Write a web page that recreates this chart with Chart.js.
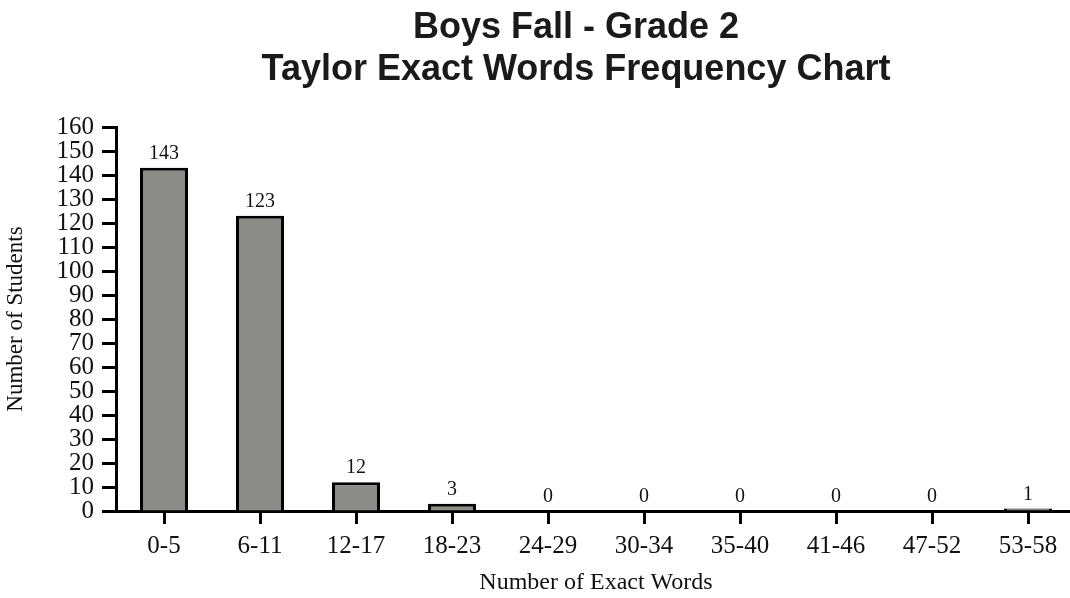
<!DOCTYPE html>
<html>
<head>
<meta charset="utf-8">
<title>Boys Fall - Grade 2</title>
<script src="https://cdn.jsdelivr.net/npm/chart.js@4.4.1/dist/chart.umd.min.js"></script>
<style>
  body { margin: 0; background: #fff; overflow: hidden; }
  #wrap { width: 1080px; height: 598px; }
</style>
</head>
<body>
<div id="wrap"><canvas id="freqChart" width="1080" height="598"></canvas></div>
<script>
// Datos del gráfico
const wordRanges = ['0-5', '6-11', '12-17', '18-23', '24-29', '30-34', '35-40', '41-46', '47-52', '53-58'];
const studentCounts = [143, 123, 12, 3, 0, 0, 0, 0, 0, 1];
const chartTitle = ['Boys Fall - Grade 2', 'Taylor Exact Words Frequency Chart'];
const yAxisMax = 160;
const yAxisStep = 10;

const serif = '"Liberation Serif", "Times New Roman", serif';

// título en dos líneas, centrado como en el original
const titlePlugin = {
    id: 'twoLineTitle',
    afterDraw(chart) {
        const ctx = chart.ctx;
        ctx.save();
        ctx.fillStyle = '#1a1a1a';
        ctx.font = 'bold 36px "Liberation Sans", Arial, sans-serif';
        ctx.textAlign = 'center';
        ctx.textBaseline = 'alphabetic';
        ctx.fillText(chartTitle[0], 576, 38);
        ctx.fillText(chartTitle[1], 576, 80);
        ctx.restore();
    }
};

// etiquetas de valor encima de cada barra
const valueLabels = {
    id: 'valueLabels',
    afterDatasetsDraw(chart) {
        const ctx = chart.ctx;
        const meta = chart.getDatasetMeta(0);
        ctx.save();
        ctx.fillStyle = '#111';
        ctx.font = '20px ' + serif;
        ctx.textAlign = 'center';
        ctx.textBaseline = 'alphabetic';
        meta.data.forEach((bar, i) => {
            ctx.fillText(String(studentCounts[i]), bar.x, bar.y - 9);
        });
        ctx.restore();
    }
};

new Chart(document.getElementById('freqChart'), {
    type: 'bar',
    data: {
        labels: wordRanges,
        datasets: [{
            data: studentCounts,
            backgroundColor: '#8b8c88',
            borderColor: '#000',
            borderWidth: 3,
            barPercentage: 0.5,
            categoryPercentage: 1.0
        }]
    },
    options: {
        responsive: false,
        animation: false,
        layout: { padding: { top: 127, right: 4, bottom: 0, left: 0 } },
        plugins: {
            legend: { display: false },
            tooltip: { enabled: false },
            title: { display: false }
        },
        scales: {
            x: {
                offset: true,
                grid: {
                    offset: false,
                    drawOnChartArea: false,
                    drawTicks: true,
                    tickLength: 13,
                    tickWidth: 3,
                    tickColor: '#000'
                },
                border: { display: true, color: '#000', width: 3 },
                ticks: {
                    color: '#111',
                    font: { family: serif, size: 25 },
                    padding: 7,
                    maxRotation: 0,
                    autoSkip: false
                },
                title: {
                    display: true,
                    text: 'Number of Exact Words',
                    color: '#111',
                    font: { family: serif, size: 24 },
                    padding: { top: 0, bottom: 1 }
                },
                afterFit(scale) { scale.height = 87; }
            },
            y: {
                min: 0,
                max: yAxisMax,
                grid: {
                    drawOnChartArea: false,
                    drawTicks: true,
                    tickLength: 14,
                    tickWidth: 3,
                    tickColor: '#000'
                },
                border: { display: true, color: '#000', width: 3 },
                ticks: {
                    stepSize: yAxisStep,
                    autoSkip: false,
                    color: '#111',
                    font: { family: serif, size: 25 },
                    padding: 8
                },
                title: {
                    display: true,
                    text: 'Number of Students',
                    color: '#111',
                    font: { family: serif, size: 23 },
                    padding: { top: 2, bottom: 0 }
                },
                afterFit(scale) { scale.width = 116; }
            }
        }
    },
    plugins: [titlePlugin, valueLabels]
});
</script>
</body>
</html>
